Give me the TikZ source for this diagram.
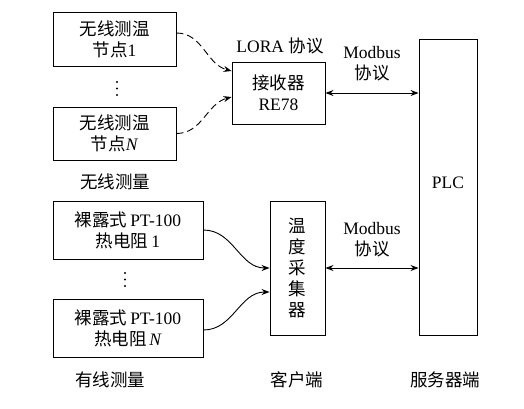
\documentclass[tikz,border=0pt]{standalone}
\usepackage{fontspec}
\setmainfont{Liberation Serif}
\newfontfamily\cjk{Noto Sans CJK SC}
\usetikzlibrary{arrows.meta}
\begin{document}
\begin{tikzpicture}[x=1pt,y=-1pt,
  every node/.style={font=\fontsize{17.5}{21}\selectfont, inner sep=0pt, align=center},
  box/.style={draw, line width=0.9pt},
  arr/.style={-{Stealth[length=8pt,width=6pt]}, line width=0.9pt},
  darr/.style={{Stealth[length=8pt,width=6pt]}-{Stealth[length=8pt,width=6pt]}, line width=0.9pt},
  dot/.style={fill, circle, minimum size=2.4pt}]
\useasboundingbox (0,0) rectangle (524,408);
% wireless nodes
\node[box, minimum width=123pt, minimum height=54pt] (b1) at (114.5,39) {{\cjk 无线测温}\\{\cjk 节点}1};
\node[box, minimum width=123pt, minimum height=53pt] (bn) at (114.5,133.5) {{\cjk 无线测温}\\{\cjk 节点}\textit{N}};
\foreach \yy in {82,88.5,95} \fill (117,\yy) circle (1.2pt);
\node (wl) at (115,182) {\cjk 无线测量};
% receiver
\node[box, minimum width=93pt, minimum height=62pt] (rx) at (278.5,93) {{\cjk 接收器}\\RE78};
\node (lora) at (280,46) {LORA {\cjk 协议}};
% PLC
\node[box, minimum width=58pt, minimum height=296pt] (plc) at (448,187) {};
\node (plct) at (448,183) {PLC};
% collector
\node[box, minimum width=55pt, minimum height=134pt] (col) at (297.5,268) {{\cjk 温}\\{\cjk 度}\\{\cjk 采}\\{\cjk 集}\\{\cjk 器}};
% PT boxes
\node[box, minimum width=150pt, minimum height=58pt] (p1) at (128,230) {{\cjk 裸露式}\,PT-100\\{\cjk 热电阻}\,1};
\node[box, minimum width=150pt, minimum height=58pt] (pn) at (128,328) {{\cjk 裸露式}\,PT-100\\{\cjk 热电阻}\,\textit{N}};
\foreach \yy in {273,279.5,286} \fill (125,\yy) circle (1.2pt);
% labels
\node (m1) at (372,64) {Modbus\\{\cjk 协议}};
\node (m2) at (372,240) {Modbus\\{\cjk 协议}};
\node (wd) at (110,380) {\cjk 有线测量};
\node (kh) at (297,380) {\cjk 客户端};
\node (fw) at (445,380) {\cjk 服务器端};
% connectors
\draw[arr, dash pattern=on 7pt off 4pt] ([yshift=6pt]b1.east) to[out=0,in=165] ([yshift=22pt]rx.west);
\draw[arr, dash pattern=on 7pt off 4pt] (bn.east) to[out=0,in=195] ([yshift=-4pt]rx.west);
\draw[darr] (rx.east) -- (rx.east -| plc.west);
\draw[darr] (col.east) -- (col.east -| plc.west);
\draw[arr] (p1.east) to[out=0,in=180] (col.west);
\draw[arr] ([yshift=-2pt]pn.east) to[out=0,in=180] ([yshift=-24pt]col.west);
\end{tikzpicture}
\end{document}
